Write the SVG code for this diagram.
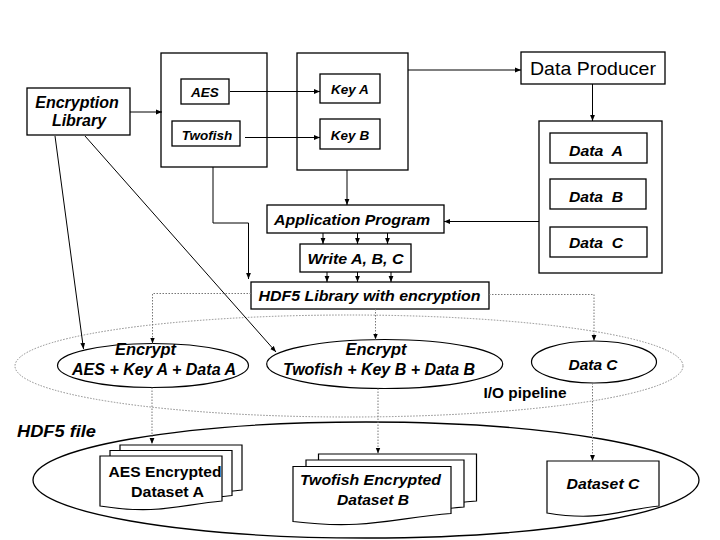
<svg xmlns="http://www.w3.org/2000/svg" width="720" height="540" viewBox="0 0 720 540">
<style>
.box{fill:#fff;stroke:#000;stroke-width:1.3}
.doc{fill:#fff;stroke:#000;stroke-width:1.2}
.ell{fill:#fff;stroke:#000;stroke-width:1.2}
.pipe{fill:none;stroke:#8a8a8a;stroke-width:1;stroke-dasharray:1.5 1.5}
.big{fill:#fff;stroke:#000;stroke-width:1.3}
.ln{fill:none;stroke:#000;stroke-width:1}
.dot{fill:none;stroke:#777;stroke-width:1;stroke-dasharray:1.5 1.5}
text{font-family:"Liberation Sans",Arial,sans-serif;font-weight:bold;font-style:italic;text-anchor:middle;fill:#000}
.reg{font-weight:normal;font-style:normal}
.up{font-style:normal}
</style>
<defs>
<marker id="ah" viewBox="0 0 10 10" refX="10" refY="5" markerWidth="6" markerHeight="6" markerUnits="userSpaceOnUse" orient="auto">
<path d="M0,1 L10,5 L0,9 z" fill="#000"/>
</marker>
</defs>

<!-- big containers -->
<g id="io-pipeline">
<ellipse class="pipe" cx="349" cy="366" rx="334" ry="51"/>
</g>
<g id="hdf5-file">
<ellipse class="big" cx="366" cy="480" rx="333" ry="58"/>
<text x="56.5" y="437" font-size="16" textLength="79" lengthAdjust="spacingAndGlyphs">HDF5 file</text>
</g>

<g id="encryption-library">
<rect class="box" x="27" y="88" width="103" height="47"/>
<text x="77" y="108" font-size="16">Encryption</text>
<text x="79" y="126" font-size="16">Library</text>
</g>

<g id="algorithms">
<rect class="box" x="161" y="53" width="106" height="114"/>
</g>
<g id="aes">
<rect class="box" x="181" y="79" width="48" height="25"/>
<text x="205" y="96.5" font-size="13.5">AES</text>
</g>
<g id="twofish">
<rect class="box" x="172" y="121" width="68" height="25"/>
<text x="207" y="139.5" font-size="13.5">Twofish</text>
</g>

<g id="keys">
<rect class="box" x="297" y="53" width="111" height="117"/>
</g>
<g id="key-a">
<rect class="box" x="320" y="74" width="60" height="29"/>
<text x="350" y="94" font-size="13.5">Key A</text>
</g>
<g id="key-b">
<rect class="box" x="320" y="119" width="60" height="30"/>
<text x="350" y="139.5" font-size="13.5">Key B</text>
</g>

<g id="data-producer">
<rect class="box" x="521" y="52" width="144" height="32"/>
<text class="reg" x="593" y="75" font-size="19" textLength="126" lengthAdjust="spacingAndGlyphs">Data Producer</text>
</g>

<g id="data">
<rect class="box" x="539" y="121" width="123" height="152"/>
</g>
<g id="data-a">
<rect class="box" x="550" y="133" width="97" height="30"/>
<text x="596" y="155.5" font-size="15" xml:space="preserve" textLength="54" lengthAdjust="spacingAndGlyphs">Data  A</text>
</g>
<g id="data-b">
<rect class="box" x="550" y="179" width="96" height="30"/>
<text x="596" y="201.5" font-size="15" xml:space="preserve" textLength="54" lengthAdjust="spacingAndGlyphs">Data  B</text>
</g>
<g id="data-c">
<rect class="box" x="550" y="227" width="97" height="30"/>
<text x="596" y="248" font-size="15" xml:space="preserve" textLength="54" lengthAdjust="spacingAndGlyphs">Data  C</text>
</g>

<g id="application-program">
<rect class="box" x="267" y="205" width="177" height="28"/>
<text x="352" y="225" font-size="15" textLength="156" lengthAdjust="spacingAndGlyphs">Application Program</text>
</g>
<g id="write-abc">
<rect class="box" x="300" y="244" width="111" height="28"/>
<text x="355.5" y="263.5" font-size="15.5" textLength="96" lengthAdjust="spacingAndGlyphs">Write A, B, C</text>
</g>
<g id="hdf5-library">
<rect class="box" x="251" y="282" width="238" height="27"/>
<text x="369.5" y="300.5" font-size="15.5" textLength="222" lengthAdjust="spacingAndGlyphs">HDF5 Library with encryption</text>
</g>

<g id="encrypt-a">
<ellipse class="ell" cx="153" cy="365.5" rx="95.5" ry="22"/>
<text x="145.5" y="354.5" font-size="16" textLength="61" lengthAdjust="spacingAndGlyphs">Encrypt</text>
<text x="154" y="374.5" font-size="16" textLength="164" lengthAdjust="spacingAndGlyphs">AES + Key A + Data A</text>
</g>
<g id="encrypt-b">
<ellipse class="ell" cx="384.7" cy="364" rx="118" ry="24.5"/>
<text x="376" y="354.5" font-size="16" textLength="61" lengthAdjust="spacingAndGlyphs">Encrypt</text>
<text x="379" y="374.5" font-size="16" textLength="192" lengthAdjust="spacingAndGlyphs">Twofish + Key B + Data B</text>
</g>
<g id="data-c-pipe">
<ellipse class="ell" cx="594" cy="362" rx="62.5" ry="21"/>
<text x="593" y="370" font-size="15.5" textLength="49" lengthAdjust="spacingAndGlyphs">Data C</text>
</g>
<g id="io-label">
<text class="up" x="525" y="397.5" font-size="15" textLength="83" lengthAdjust="spacingAndGlyphs">I/O pipeline</text>
</g>

<g id="dataset-a">
<path class="doc" d="M120,445 H242 V490 C199,494 177,504 120,495 Z"/>
<path class="doc" d="M110,450.5 H232 V495.5 C189,499.5 167,509.5 110,500.5 Z"/>
<path class="doc" d="M100,456 H222 V501 C179,505 157,515 100,506 Z"/>
<text class="up" x="165" y="476.5" font-size="15.5" textLength="113" lengthAdjust="spacingAndGlyphs">AES Encrypted</text>
<text class="up" x="167.5" y="496.5" font-size="15.5" textLength="73" lengthAdjust="spacingAndGlyphs">Dataset A</text>
</g>
<g id="dataset-b">
<path class="doc" d="M318.5,454 H476.5 V501 C421.5,505 392.5,518 318.5,509 Z"/>
<path class="doc" d="M306,460 H464 V507 C409,511 380,524 306,515 Z"/>
<path class="doc" d="M293,466.5 H451 V513.5 C396,517.5 367,530.5 293,521.5 Z"/>
<text x="370.5" y="485" font-size="15.5" textLength="141" lengthAdjust="spacingAndGlyphs">Twofish Encrypted</text>
<text x="373" y="505" font-size="15.5" textLength="72" lengthAdjust="spacingAndGlyphs">Dataset B</text>
</g>
<g id="dataset-c">
<path class="doc" d="M547,461 H659 V506 C620,510 600,522 547,513 Z"/>
<text x="603" y="488.5" font-size="15.5" textLength="73" lengthAdjust="spacingAndGlyphs">Dataset C</text>
</g>

<g id="connectors">
<line class="ln" x1="130" y1="112" x2="162" y2="112" marker-end="url(#ah)"/>
<line class="ln" x1="230" y1="91.5" x2="320" y2="91.5" marker-end="url(#ah)"/>
<line class="ln" x1="245" y1="137.5" x2="320" y2="137.5" marker-end="url(#ah)"/>
<line class="ln" x1="408" y1="70" x2="521" y2="70" marker-end="url(#ah)"/>
<line class="ln" x1="592.5" y1="84" x2="592.5" y2="121" marker-end="url(#ah)"/>
<line class="ln" x1="539" y1="221.5" x2="444" y2="221.5" marker-end="url(#ah)"/>
<line class="ln" x1="347" y1="170" x2="347" y2="205" marker-end="url(#ah)"/>
<polyline class="ln" points="213,167 213,223 248.5,223 248.5,279" marker-end="url(#ah)"/>
<line class="ln" x1="323" y1="233" x2="323" y2="244" marker-end="url(#ah)"/>
<line class="ln" x1="357.5" y1="233" x2="357.5" y2="244" marker-end="url(#ah)"/>
<line class="ln" x1="387.5" y1="233" x2="387.5" y2="244" marker-end="url(#ah)"/>
<line class="ln" x1="327" y1="272" x2="327" y2="282" marker-end="url(#ah)"/>
<line class="ln" x1="357.5" y1="272" x2="357.5" y2="282" marker-end="url(#ah)"/>
<line class="ln" x1="391" y1="272" x2="391" y2="282" marker-end="url(#ah)"/>
<line class="ln" x1="55" y1="136" x2="83.5" y2="349" marker-end="url(#ah)"/>
<line class="ln" x1="85" y1="136" x2="276" y2="352" marker-end="url(#ah)"/>
<polyline class="dot" points="251,293.5 152.5,293.5 152.5,343.5" marker-end="url(#ah)"/>
<line class="dot" x1="375.5" y1="309" x2="375.5" y2="339.5" marker-end="url(#ah)"/>
<polyline class="dot" points="489,294.5 594,294.5 594,341" marker-end="url(#ah)"/>
<line class="dot" x1="152" y1="387.5" x2="152" y2="444" marker-end="url(#ah)"/>
<line class="dot" x1="378" y1="388.5" x2="378" y2="453.5" marker-end="url(#ah)"/>
<line class="dot" x1="592.5" y1="383" x2="592.5" y2="461" marker-end="url(#ah)"/>
</g>
</svg>
